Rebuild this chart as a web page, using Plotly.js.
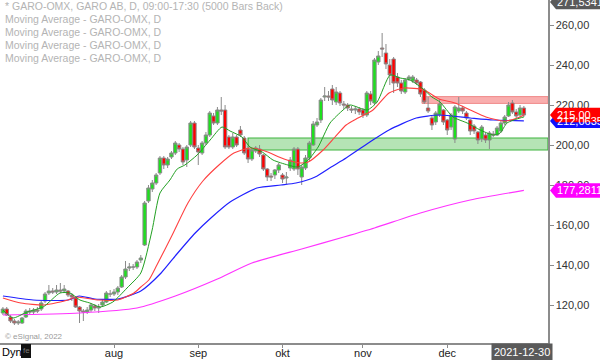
<!DOCTYPE html>
<html><head><meta charset="utf-8">
<script src="https://cdn.plot.ly/plotly-3.0.1.min.js"></script>
<style>html,body{margin:0;padding:0;background:#fff;}#chart{width:600px;height:360px;}</style>
</head><body><div id="chart"></div>
<script>
// Daily bars, 2021-06-21 .. 2021-12-30 (137 trading days), GARO-OMX
const openPx = [116,118,114,112,111,111,114,117,116.5,117.5,118,122,126,127,126.5,127.5,127,127,125,123.5,119,117,116.5,117.5,119.5,118.5,120,121.5,125.5,
125.5,126.5,129,134,138.5,139,139,142.5,150,172,178,181,186,193.5,190,194,196,200,198,192.5,200,211,
198.5,196,201,205,214.5,211,217.5,217.5,204,199,204,207.5,203.5,198,193,197,198,195,188,184.5,185,187.5,
185,183.5,188.5,188,198,184,188.5,193.5,200,210,212.5,224,224.5,228,221.5,226,220.5,220,218,217.5,218,
217.5,215,225.5,221,241.5,248.5,246,240,243,234,231,226.5,233,232,232.5,231.5,227.5,218.5,213.5,211.5,215,217.5,
212.5,209,203,217,218.5,216,212.5,209.5,206.5,203,205,202.5,205.5,205,207,211,214.5,221,216.5,215,218.5];
const highPx = [119,119,115,113,112.5,114,118,118.5,118.5,119,122,126.5,130,128.5,130,131,130,127.5,126,124,119.5,118,119,121,120.5,120.5,122.5,127,127.5,
128,129.5,135,142,141,140.5,142.5,145,172,180,182.5,186,194.5,194.5,194,197,202,201,199,200,212,212,
200,202,206.5,217,216,219,224,220,205,206,205,209.5,204.5,199.5,198.5,199.5,200,195.5,188.5,186,188,191,
186,186.5,194,199,199,190,195,202,212,213.5,223.5,229,227,230,229,227,222,221,219.5,219.5,219,
218.5,227,227,243.5,247,256,250.5,243,244,236,232.5,233.5,235,235,233.5,232,228.5,224,214.5,217,223,218,
213,216,220,224,219.5,217,213,210.5,207,210,206,207,207,209.5,212,215,221.5,222.5,218,220,219.5];
const lowPx = [115,114.5,111,110,110,110.5,113.5,115.5,115.5,116,117,121,125,125.5,125.5,126,126,124,122,118.5,111,112,115.5,116.5,117,116,119,121,124,
124.5,125,128.5,133,137,137.5,138,141,149.5,171,176.5,180,185,188,188.5,193,195,196.5,190,189,199,198,
190,195,200,204,210,210,215,198,198,198,199,204,195,191,192,196,194,187,182,182,183,186,
181,180.5,187,187,185,180,187.5,192,199.5,209,211,222,222,220,220,219.5,218,217,216,215.5,215,
213.5,214,220,220,240,244,238,230,226,229,225.5,225.5,232,231,230,224,220.5,216,207.5,210,214,210,
205,207.5,201,216,215.5,212.5,205,205.5,200.5,201.5,201,198,204,204.5,206,210,214,215.5,213.5,214,214];
const closePx = [118,115,112,111,111.5,113.5,117,116.5,117.5,117,121,125.5,127,126.5,127.5,127,128,125,124,119,117,116.5,117.5,120,118.5,119,121.5,126,125.5,
126.5,128.5,134,138,139,139,141.5,143.5,171,178.5,181,185,193.5,190,193,196,201,198,191.5,199,211,199,
196.5,201,205,216,211,217.5,217,199,199,204,200,205,196,193,197.5,198.5,195.5,188,184,184,187.5,190,
183,184,192.5,198,188,189,193.5,201,210.5,211.5,222.5,224.5,224,222.5,226.5,221,220,218.5,217.5,218,216.5,
215,226,222,242.5,244.5,248,240.5,235,231,231,227,232.5,234,234,231,225.5,221.5,217,210,216,220.5,211.5,
207.5,215,219,218.5,217,213.5,207,207,202.5,209,202.5,206,205,208.5,211,214,220,216.5,214.5,218.5,215];

// Moving averages (bar index, value)
const maGreenIdx = [0,2.6,6.3,10.5,14.9,17.5,20.1,22.7,25.4,28.7,32.4,36,38.9,41,43.6,45.5,47.5,50.7,54.1,57.2,59.3,62.4,64.5,67.7,70.5,74.4,77,79.7,82.3,85.4,88.8,90.6,95.1,97.7,101.1,103.7,106.3,109.7,112,114.1,117.5,121.2,124.6,128,129.8,131.6,135,136];
const maGreenVal = [117.5,113.5,116.5,119,126,126,122.5,121,119,121.5,128.5,136,157,176,182.5,188,190,195,202.5,209,207,204,199,196.5,192.5,190,189,192.5,199,211,217.5,220,217.5,221.5,235,233.5,232.5,228,224,221.5,214,211,207.5,205,206,211,213.5,214];
const maRedIdx = [0,4.7,10.7,17,19,25,30,34.2,36,38.1,40.2,44.2,48.3,52.2,56.4,60.3,64.5,68.4,73.4,77.6,79.7,83.6,86.7,89.6,92.7,96.6,100.8,104.7,109.9,113.9,118,122,126.1,131.1,135,136];
const maRedVal = [123.5,121,120,122.5,124,122.5,122.5,126,129,132.5,140,155,171,182,190,196,198.5,197,193,191,191.5,197.5,204,210,213.5,217.5,226,228.5,227.5,223,221,217.5,214,212,214,215];
const maBlueIdx = [0,7.9,17,19.9,24,30,36,41.3,45.2,50.2,54.3,59.3,66.3,72.6,76.5,81.5,85.7,89.6,96.6,100.8,107.9,113.9,122,128,136];
const maBlueVal = [124.5,122.5,122.5,124.5,123,123,127,136,145,156,163.5,171.5,178.5,180,181,184,189,193.5,202.5,207.5,213.5,215,213.5,212.5,212.1];
const maPinkIdx = [0,20,35,45,56,65,78,89,97,109,122,136];
const maPinkVal = [115,116,118.5,124.5,133,141,148,154,158.5,166,172.5,177.3];

const monthTickIdx = [29,51,73,94,116];
const monthLabels = ['aug','sep','okt','nov','dec'];
const lastDateLabel = '2021-12-30';
const yTicks = [120,140,160,180,200,220,240,260];

const legendLines = ['* GARO-OMX, GARO AB, D, 09:00-17:30 (5000 Bars Back)','Moving Average - GARO-OMX, D','Moving Average - GARO-OMX, D','Moving Average - GARO-OMX, D','Moving Average - GARO-OMX, D'];

// zones (price levels)
const greenZone = {fromIdx:64, lo:197.5, hi:203.5};
const redZone = {fromIdx:109.4, lo:220.8, hi:224.2};

// right-side value tags
const tags = [
  {v:212.06, text:'212,06351', bg:'#1010ff'},
  {v:215.00, text:'215,00', bg:'#ff0000'},
  {v:177.28, text:'177,281107', bg:'#ff00ff'},
  {v:271.53, text:'271,534195', bg:'#5a5a5a'}
];

const barIdx = closePx.map((_, i) => i);
const W = 548, H = 343;
const px = p => p / W;

const traces = [
  {type:'candlestick', x:barIdx, open:openPx, high:highPx, low:lowPx, close:closePx,
   increasing:{line:{color:'#8a8a8a', width:1}, fillcolor:'#1ee01e'},
   decreasing:{line:{color:'#8a8a8a', width:1}, fillcolor:'#ff0000'},
   whiskerwidth:0, hoverinfo:'skip', showlegend:false},
  {type:'scatter', mode:'lines', x:maPinkIdx, y:maPinkVal, line:{color:'#ff33ff', width:1.2, shape:'spline', smoothing:0.6}, hoverinfo:'skip', showlegend:false},
  {type:'scatter', mode:'lines', x:maBlueIdx, y:maBlueVal, line:{color:'#2020ff', width:1.2, shape:'spline', smoothing:0.6}, hoverinfo:'skip', showlegend:false},
  {type:'scatter', mode:'lines', x:maRedIdx, y:maRedVal, line:{color:'#ff4040', width:1.1, shape:'spline', smoothing:0.6}, hoverinfo:'skip', showlegend:false},
  {type:'scatter', mode:'lines', x:maGreenIdx, y:maGreenVal, line:{color:'#22a022', width:1, shape:'spline', smoothing:0.6}, hoverinfo:'skip', showlegend:false}
];

const shapes = [
  {type:'rect', xref:'x', yref:'y', x0:greenZone.fromIdx, x1:142.3, y0:greenZone.lo, y1:greenZone.hi,
   fillcolor:'rgba(120,205,120,0.55)', line:{color:'#3fb43f', width:1.2}, layer:'below'},
  {type:'rect', xref:'x', yref:'y', x0:redZone.fromIdx, x1:142.3, y0:redZone.lo, y1:redZone.hi,
   fillcolor:'rgba(245,120,120,0.6)', line:{color:'#f08a8a', width:1}, layer:'below'},
  {type:'rect', xref:'paper', yref:'paper', x0:px(21), x1:px(31), y0:-(358-H)/H, y1:-(344-H)/H, fillcolor:'#111', line:{width:0}}
];
const annotations = [];
tags.forEach(t => {
  const h = 3.6;
  shapes.push({type:'path', xref:'paper', yref:'y', layer:'above',
    path:`M ${px(550)},${t.v} L ${px(556)},${t.v+h} L ${px(615)},${t.v+h} L ${px(615)},${t.v-h} L ${px(556)},${t.v-h} Z`,
    fillcolor:t.bg, line:{width:0}});
  annotations.push({xref:'paper', yref:'y', x:px(555), y:t.v, xanchor:'left', yanchor:'middle', text:t.text,
    showarrow:false, font:{family:'Arial', size:11, color:'#fff'}});
});
legendLines.forEach((s, i) => {
  annotations.push({xref:'paper', yref:'paper', x:px(3), y:1 - (6 + i*13)/H, xanchor:'left', yanchor:'middle',
    text:s, showarrow:false, font:{family:'Arial', size:10.5, color:'#b4b4b4'}});
});
annotations.push({xref:'paper', yref:'paper', x:px(3), y:(H-336)/H, xanchor:'left', yanchor:'middle',
  text:'© eSignal, 2022', showarrow:false, font:{family:'Arial', size:8, color:'#9a9a9a'}});
annotations.push({xref:'paper', yref:'paper', x:0, y:-(352-H)/H, xanchor:'left', yanchor:'middle',
  text:'Dyn', showarrow:false, font:{family:'Arial', size:11, color:'#000'}});
annotations.push({xref:'paper', yref:'paper', x:px(26), y:-(351-H)/H, xanchor:'center', yanchor:'middle',
  text:'fe', showarrow:false, font:{family:'Arial', size:8, color:'#777'}});
annotations.push({xref:'x', yref:'paper', x:135.6, y:-(351.5-H)/H, xanchor:'center', yanchor:'middle',
  text:lastDateLabel, showarrow:false, bgcolor:'#5a5a5a', borderpad:2, font:{family:'Arial', size:11, color:'#fff'}});

const layout = {
  width:600, height:360, margin:{l:0, r:52, t:0, b:17},
  paper_bgcolor:'#fff', plot_bgcolor:'#fff', separators:', ', showlegend:false,
  boxgap:0.12, boxgroupgap:0,
  xaxis:{range:[-0.76,142.3], tickvals:monthTickIdx, ticktext:monthLabels, showline:true, linecolor:'#8c8c8c', linewidth:1.5,
    ticks:'outside', ticklen:3, tickcolor:'#8c8c8c', showgrid:false, zeroline:false, rangeslider:{visible:false},
    ticklabelstandoff:-4,
    tickfont:{family:'Arial', size:11, color:'#222'}, fixedrange:true},
  yaxis:{side:'right', range:[101,272.5], tickvals:yTicks, tickformat:'.2f', showline:true, linecolor:'#8c8c8c', linewidth:1.5,
    ticks:'outside', ticklen:4, tickcolor:'#8c8c8c', showgrid:false, zeroline:false,
    tickfont:{family:'Arial', size:11, color:'#333'}, fixedrange:true},
  shapes:shapes, annotations:annotations
};
Plotly.newPlot('chart', traces, layout, {displayModeBar:false, staticPlot:true});
</script></body></html>
